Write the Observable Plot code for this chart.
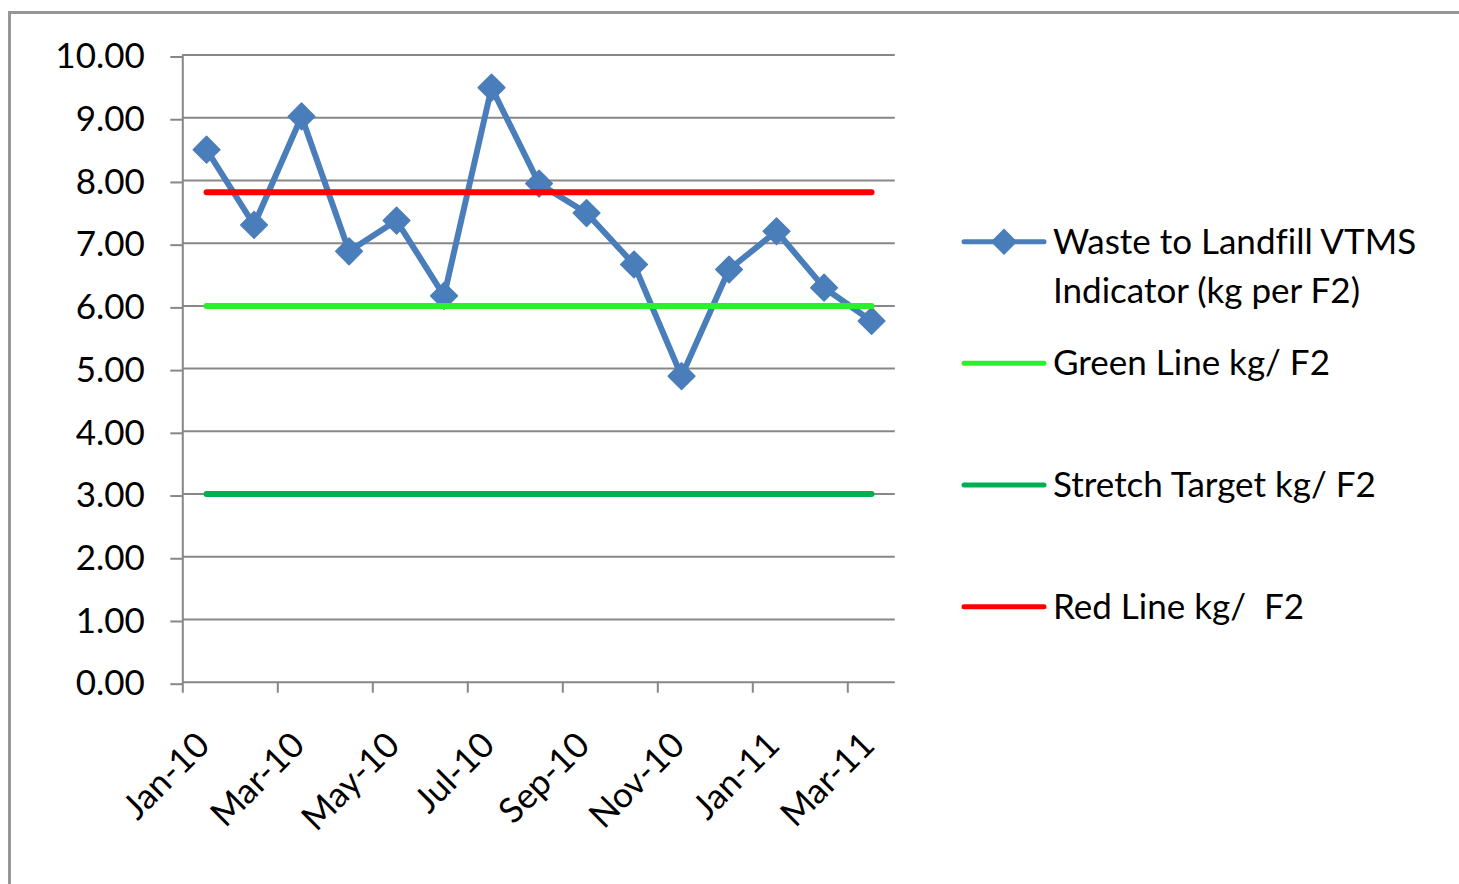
<!DOCTYPE html>
<html>
<head>
<meta charset="utf-8">
<script src="https://cdn.jsdelivr.net/npm/d3@7"></script>
<script src="https://cdn.jsdelivr.net/npm/@observablehq/plot@0.6"></script>
<style>
  html, body { margin: 0; padding: 0; background: #fff; overflow: hidden; }
  #wrap { position: relative; width: 1459px; height: 884px; overflow: hidden; background: #fff; }
  #frame { position: absolute; left: 7.5px; top: 10.5px; width: 2000px; height: 2000px; border: 3px solid #979797; box-sizing: border-box; }
  #chart { position: absolute; left: 0; top: 0; }
  #legend { position: absolute; left: 0; top: 0; }
  svg text { font-variant-ligatures: none; white-space: pre; }
</style>
</head>
<body>
<div id="wrap"><div id="frame"></div><div id="chart"></div><svg id="legend" width="1459" height="884"></svg></div>
<script>
// ---- data ----
const months = ["Jan-10","Feb-10","Mar-10","Apr-10","May-10","Jun-10","Jul-10","Aug-10","Sep-10","Oct-10","Nov-10","Dec-10","Jan-11","Feb-11","Mar-11"];
const waste = [8.49, 7.29, 9.02, 6.87, 7.36, 6.16, 9.48, 7.95, 7.48, 6.66, 4.88, 6.58, 7.19, 6.29, 5.76];
const greenLine = [6.00, 6.00, 6.00, 6.00, 6.00, 6.00, 6.00, 6.00, 6.00, 6.00, 6.00, 6.00, 6.00, 6.00, 6.00];
const stretchTarget = [3.00, 3.00, 3.00, 3.00, 3.00, 3.00, 3.00, 3.00, 3.00, 3.00, 3.00, 3.00, 3.00, 3.00, 3.00];
const redLine = [7.81, 7.81, 7.81, 7.81, 7.81, 7.81, 7.81, 7.81, 7.81, 7.81, 7.81, 7.81, 7.81, 7.81, 7.81];
const yTicks = [0,1,2,3,4,5,6,7,8,9,10];
const xLabelIdx = [0,2,4,6,8,10,12,14];
const seriesNames = ["Waste to Landfill VTMS\nIndicator (kg per F2)", "Green Line kg/ F2", "Stretch Target kg/ F2", "Red Line kg/  F2"];
const seriesColors = ["#4a7ebb", "#29f22d", "#00b050", "#ff0000"];

const rows = months.map((m, i) => ({i, m, waste: waste[i], green: greenLine[i], stretch: stretchTarget[i], red: redLine[i]}));
const boundaries = d3.range(-0.5, 14, 2); // category boundaries every 2 months
const gridColor = "#878787";
const font = "Lato, 'Open Sans', sans-serif";
const fs = 35;

const chart = Plot.plot({
  width: 1459,
  height: 884,
  marginLeft: 182.3,
  marginRight: 564.2,
  marginTop: 54.5,
  marginBottom: 202.3,
  style: {fontFamily: font, fontSize: fs + "px", color: "#000", background: "transparent"},
  x: {type: "linear", domain: [-0.5, 14.5]},
  y: {domain: [0, 10]},
  marks: [
    Plot.gridY(yTicks, {stroke: gridColor, strokeOpacity: 1, strokeWidth: 2}),
    Plot.axisY(yTicks, {tickSize: 12, tickPadding: 26, stroke: gridColor, strokeWidth: 2, tickFormat: d => d.toFixed(2), fill: "#000", dy: 2, label: null}),
    Plot.axisX(boundaries, {tickSize: 11, tickFormat: () => "", stroke: gridColor, strokeWidth: 2, label: null}),
    Plot.ruleX([-0.5], {stroke: gridColor, strokeWidth: 2}),
    Plot.text(xLabelIdx, {x: d => d, text: d => months[d], frameAnchor: "bottom", rotate: -45, textAnchor: "end", dx: 5, dy: 65, fill: "#000", fontSize: fs}),
    Plot.line(rows, {x: "i", y: "waste", stroke: seriesColors[0], strokeWidth: 6, strokeLinejoin: "round", strokeLinecap: "round"}),
    Plot.dot(rows, {x: "i", y: "waste", symbol: "diamond2", r: 12, fill: seriesColors[0], stroke: seriesColors[0], strokeWidth: 1.5, strokeLinejoin: "round"}),
    Plot.line(rows, {x: "i", y: "green", stroke: seriesColors[1], strokeWidth: 6, strokeLinecap: "round"}),
    Plot.line(rows, {x: "i", y: "stretch", stroke: seriesColors[2], strokeWidth: 6, strokeLinecap: "round"}),
    Plot.line(rows, {x: "i", y: "red", stroke: seriesColors[3], strokeWidth: 6, strokeLinecap: "round"})
  ]
});
document.getElementById("chart").appendChild(chart);

// ---- legend ----
const leg = d3.select("#legend").style("font-family", font).style("font-size", fs + "px");
const legendY = [241.7, 363.3, 485, 606.7];
seriesNames.forEach((name, k) => {
  const g = leg.append("g").attr("transform", `translate(962,${legendY[k]})`);
  g.append("line").attr("x1", 2).attr("x2", 82).attr("y1", 0).attr("y2", 0)
    .attr("stroke", seriesColors[k]).attr("stroke-width", 5).attr("stroke-linecap", "round");
  if (k === 0) {
    g.append("path").attr("d", d3.symbol(d3.symbolDiamond2, Math.PI * 11 * 11)()).attr("transform", "translate(42,0)")
      .attr("fill", seriesColors[k]).attr("stroke", seriesColors[k]).attr("stroke-width", 1.5).attr("stroke-linejoin", "round");
  }
  const t = g.append("text").attr("x", 91).attr("y", 12).attr("fill", "#000");
  name.split("\n").forEach((ln, j) => t.append("tspan").attr("x", 91).attr("dy", j === 0 ? 0 : 49.7).text(ln));
});
</script>
</body>
</html>
